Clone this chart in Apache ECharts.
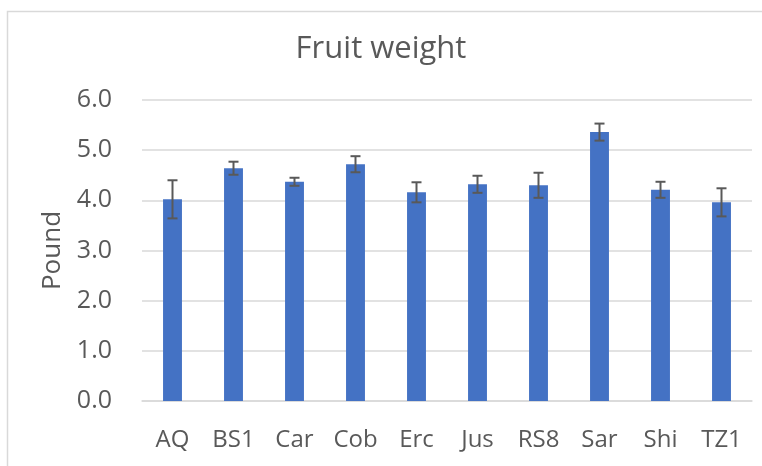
<!DOCTYPE html>
<html>
<head>
<meta charset="utf-8">
<script src="https://cdn.jsdelivr.net/npm/echarts@6/dist/echarts.min.js"></script>
<style>
html,body{margin:0;padding:0;background:#fff;}
#chart{width:762px;height:466px;}
</style>
</head>
<body>
<div id="chart"></div>
<script>
const categories = ['AQ','BS1','Car','Cob','Erc','Jus','RS8','Sar','Shi','TZ1'];
const weights = [4.02, 4.64, 4.37, 4.72, 4.16, 4.32, 4.30, 5.36, 4.21, 3.96];
const errors = [0.38, 0.13, 0.08, 0.16, 0.20, 0.17, 0.25, 0.17, 0.16, 0.28];
const yTicks = [0, 1, 2, 3, 4, 5, 6];

const FONT = 'Open Sans';
const chart = echarts.init(document.getElementById('chart'));
const errData = categories.map((c, i) => [i, weights[i] - errors[i], weights[i] + errors[i]]);

chart.setOption({
  animation: false,
  graphic: [{
    type: 'rect', left: 5, top: 9,
    shape: {width: 800, height: 500},
    style: {fill: 'none', stroke: '#d9d9d9', lineWidth: 1.5},
    silent: true, z: -10
  }],
  title: {
    text: 'Fruit weight', left: 'center', top: 29,
    textStyle: {fontFamily: FONT, fontSize: 31, fontWeight: 'normal', color: '#595959'}
  },
  grid: {left: 142, right: 10, top: 100, bottom: 65},
  xAxis: {
    type: 'category', data: categories,
    axisLine: {show: true, lineStyle: {color: '#d9d9d9', width: 1.5}},
    axisTick: {show: false},
    axisLabel: {fontFamily: FONT, fontSize: 24, color: '#595959', margin: 27,
      interval: 0, hideOverlap: false}
  },
  yAxis: {
    type: 'value', min: yTicks[0], max: yTicks[yTicks.length - 1], interval: 1,
    name: 'Pound', nameLocation: 'middle', nameGap: 74, nameRotate: 90,
    nameTextStyle: {fontFamily: FONT, fontSize: 26, color: '#595959'},
    axisLine: {show: false}, axisTick: {show: false},
    axisLabel: {fontFamily: FONT, fontSize: 25, color: '#595959', margin: 30,
      formatter: v => v.toFixed(1)},
    splitLine: {lineStyle: {color: '#d9d9d9', width: 1.5}}
  },
  series: [{
    type: 'bar', data: weights, barWidth: '31%',
    itemStyle: {color: '#4472c4'}
  }, {
    type: 'custom', data: errData, z: 5,
    encode: {x: 0, y: [1, 2]},
    renderItem: function (params, api) {
      const x = api.value(0);
      const lo = api.coord([x, api.value(1)]);
      const hi = api.coord([x, api.value(2)]);
      const hw = 5;
      const st = {stroke: '#595959', lineWidth: 2, fill: 'none'};
      return {type: 'group', children: [
        {type: 'line', shape: {x1: lo[0], y1: lo[1], x2: hi[0], y2: hi[1]}, style: st},
        {type: 'line', shape: {x1: lo[0] - hw, y1: lo[1], x2: lo[0] + hw, y2: lo[1]}, style: st},
        {type: 'line', shape: {x1: hi[0] - hw, y1: hi[1], x2: hi[0] + hw, y2: hi[1]}, style: st}
      ]};
    }
  }]
});
</script>
</body>
</html>
